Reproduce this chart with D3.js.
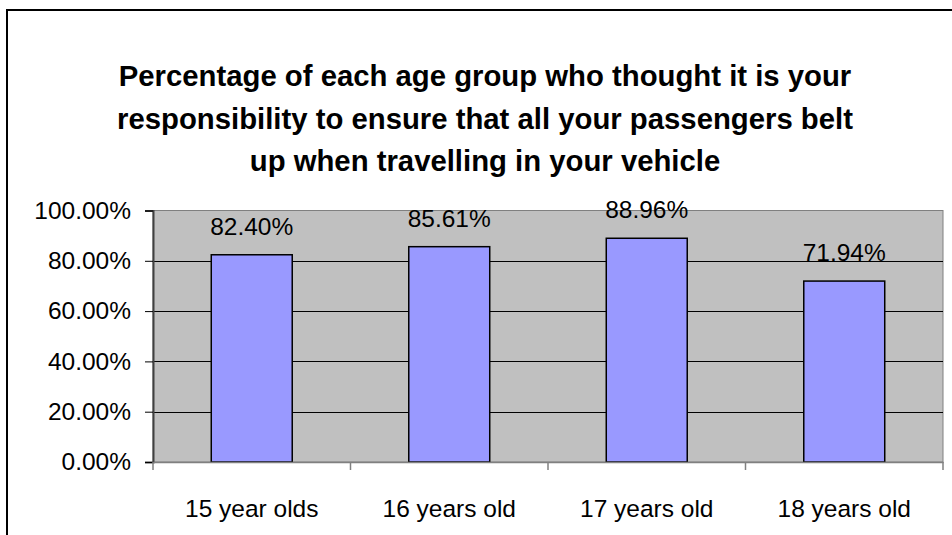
<!DOCTYPE html>
<html><head><meta charset="utf-8">
<script src="https://cdn.jsdelivr.net/npm/d3@7"></script>
<style>body{margin:0;background:#fff}svg{display:block}text{font-family:"Liberation Sans",Arial,sans-serif}</style>
</head><body>
<script>
const categories = ["15 year olds", "16 years old", "17 years old", "18 years old"];
const values = [82.40, 85.61, 88.96, 71.94];
const yTicks = [0, 20, 40, 60, 80, 100];
const titleLines = ["Percentage of each age group who thought it is your",
  "responsibility to ensure that all your passengers belt",
  "up when travelling in your vehicle"];

(function () {
const W = 952, H = 535;
const svg = d3.select("body").append("svg").attr("width", W).attr("height", H);

// outer chart border (right/bottom beyond view)
svg.append("rect").attr("x", 7).attr("y", 10).attr("width", 960).attr("height", 560)
  .attr("fill", "#fff").attr("stroke", "#000").attr("stroke-width", 2);

const pL = 153, pR = 943, pT = 210.5, pB = 462;
const x = d3.scaleBand().domain(categories).range([pL, pR]).paddingInner(0.59).paddingOuter(0.295);
const xb = d3.scaleBand().domain(categories).range([pL, pR]);
const y = d3.scaleLinear().domain([0, 100]).range([pB, pT]);

// plot area
svg.append("rect").attr("x", pL).attr("y", pT).attr("width", pR - pL).attr("height", pB - pT)
  .attr("fill", "#C0C0C0").attr("stroke", "#808080").attr("stroke-width", 1);

// gridlines
svg.append("g").selectAll("line").data(yTicks.filter(d => d > 0 && d < 100)).join("line")
  .attr("x1", pL).attr("x2", pR).attr("y1", d => Math.round(y(d)) + 0.5).attr("y2", d => Math.round(y(d)) + 0.5)
  .attr("stroke", "#000").attr("stroke-width", 1);

// bars
svg.append("g").selectAll("rect").data(values).join("rect")
  .attr("x", (d, i) => x(categories[i])).attr("width", x.bandwidth())
  .attr("y", d => y(d)).attr("height", d => pB - y(d))
  .attr("fill", "#9999FF").attr("stroke", "#000").attr("stroke-width", 1.5);

// value labels
svg.append("g").selectAll("text").data(values).join("text")
  .attr("x", (d, i) => x(categories[i]) + x.bandwidth() / 2).attr("y", d => y(d) - 20)
  .attr("text-anchor", "middle").attr("font-size", 24.5).attr("fill", "#000")
  .text(d => d.toFixed(2) + "%");

// y axis
const yAxis = d3.axisLeft(y).tickValues(yTicks).tickFormat(d => d.toFixed(2) + "%").tickSize(8).tickPadding(14);
const gy = svg.append("g").attr("transform", `translate(${pL},0)`).call(yAxis);
gy.select(".domain").attr("stroke", "#404040").attr("stroke-width", 2);
gy.selectAll(".tick line").attr("stroke", "#000");
gy.selectAll("text").attr("font-size", 24.5).attr("fill", "#000").attr("font-family", "Liberation Sans, Arial, sans-serif");

// x axis
const gx = svg.append("g").attr("transform", `translate(0,${pB})`)
  .call(d3.axisBottom(xb).tickSize(0).tickPadding(38));
gx.select(".domain").attr("stroke", "#808080").attr("stroke-width", 1.5);
gx.selectAll("text").attr("font-size", 24.5).attr("fill", "#000").attr("font-family", "Liberation Sans, Arial, sans-serif");
const bounds = categories.map(c => xb(c)).concat([pR]);
gx.append("g").selectAll("line").data(bounds).join("line")
  .attr("x1", d => d).attr("x2", d => d).attr("y1", 0).attr("y2", 8).attr("stroke", "#808080").attr("stroke-width", 1.5);

// title
svg.append("g").selectAll("text").data(titleLines).join("text")
  .attr("x", 485).attr("y", (d, i) => 86 + i * 42.5)
  .attr("text-anchor", "middle").attr("font-size", 29.3).attr("font-weight", "bold").attr("fill", "#000")
  .text(d => d);
})();
</script>
</body></html>
